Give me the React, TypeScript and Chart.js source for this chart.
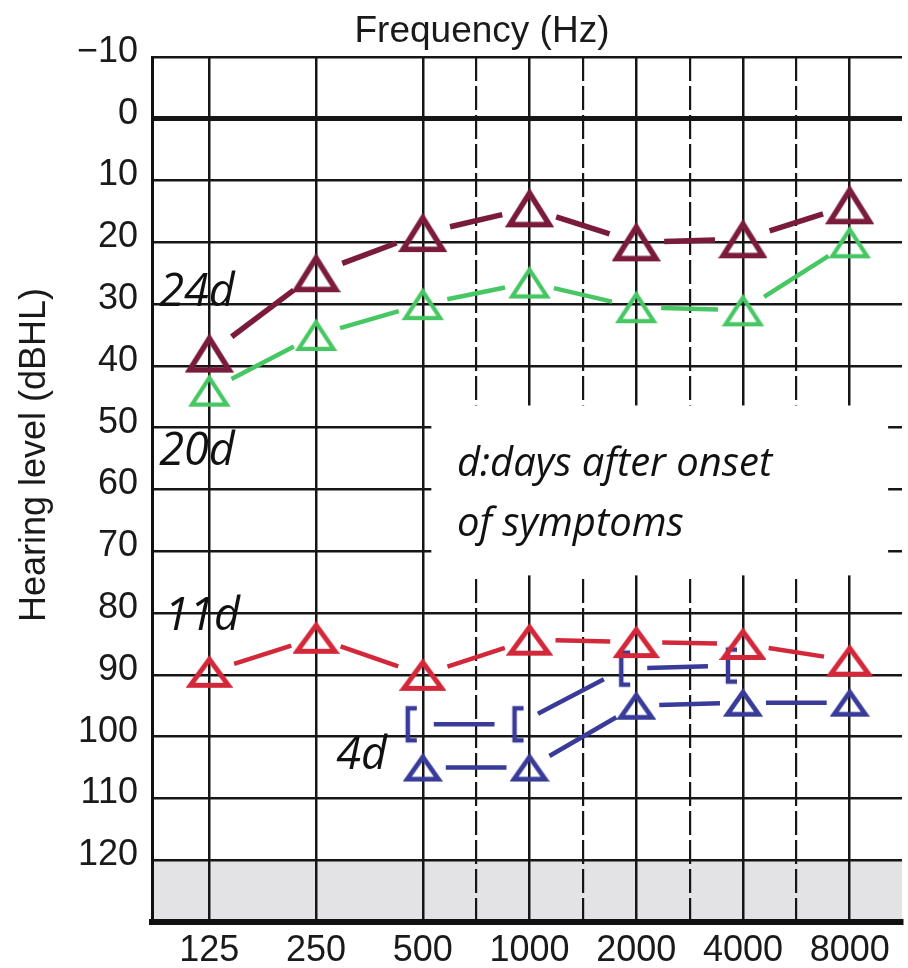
import React, { useEffect, useRef } from 'react';
import { Chart, registerables } from 'chart.js';

Chart.register(...registerables);

// ---------- data ----------
const freqLabels = ['125', '250', '500', '1000', '2000', '4000', '8000'];
const freqIndex = [0, 1, 2, 3, 4, 5, 6];
const halfOctaveIndex = [2.5, 3.5, 4.5, 5.5];
const yTickValues = [-10, 0, 10, 20, 30, 40, 50, 60, 70, 80, 90, 100, 110, 120, 130];
const yTickLabels = ['\u221210', '0', '10', '20', '30', '40', '50', '60', '70', '80', '90', '100', '110', '120', ''];

const day24Air = [38, 25, 18.5, 14.5, 20, 19.5, 14];
const day20Air = [44, 35, 30, 26.5, 30.5, 31, 20];
const day11Air = [89.5, 84, 90, 84.3, 84.7, 85, 87.7];
const day4Air = [null, null, 105, 105, 95, 94.5, 94.5];
const day4Bone = [null, null, 98, 98, 89, 88.5, null];

const seriesNames = ['24d', '20d', '11d', '4d air', '4d bone'];
const legendNote = ['d:days after onset', 'of symptoms'];
const xTitle = 'Frequency (Hz)';
const yTitle = 'Hearing level (dBHL)';

const COLORS = {
  maroon: '#7a1b3b',
  green: '#47c763',
  red: '#d3283a',
  blue: '#393b99',
};

function toPoints(values: (number | null)[]) {
  return freqIndex
    .map((x, i) => ({ x, y: values[i] }))
    .filter((p) => p.y !== null) as { x: number; y: number }[];
}

function makeTriangle(color: string, w: number, h: number, lw: number) {
  const c = document.createElement('canvas');
  const pad = 2;
  c.width = Math.ceil(w + pad * 2);
  c.height = Math.ceil(h + pad * 2);
  const ctx = c.getContext('2d')!;
  ctx.strokeStyle = color;
  ctx.lineWidth = lw;
  ctx.lineJoin = 'miter';
  const x0 = pad + lw / 2;
  const x1 = pad + w - lw / 2;
  const yTop = pad + lw / 2 + 1;
  const yBot = pad + h - lw / 2;
  ctx.beginPath();
  ctx.moveTo((x0 + x1) / 2, yTop);
  ctx.lineTo(x1, yBot);
  ctx.lineTo(x0, yBot);
  ctx.closePath();
  ctx.stroke();
  return c;
}

function makeBracket(color: string) {
  const c = document.createElement('canvas');
  c.width = 48;
  c.height = 42;
  const ctx = c.getContext('2d')!;
  ctx.strokeStyle = color;
  ctx.lineWidth = 4.5;
  ctx.lineCap = 'butt';
  ctx.beginPath();
  ctx.moveTo(18, 5);
  ctx.lineTo(9, 5);
  ctx.lineTo(9, 37);
  ctx.lineTo(18, 37);
  ctx.stroke();
  return c;
}

const overlayPlugin = {
  id: 'audiogramOverlay',
  beforeDraw(chart: any) {
    const { ctx, chartArea, scales } = chart;
    const y120 = scales.y.getPixelForValue(120);
    const y130 = scales.y.getPixelForValue(130);
    ctx.save();
    ctx.fillStyle = '#e3e3e5';
    ctx.fillRect(chartArea.left, y120, chartArea.right - chartArea.left, y130 - y120);
    ctx.restore();
  },
  beforeDatasetsDraw(chart: any) {
    const { ctx, scales } = chart;
    const xs = scales.x;
    const ys = scales.y;
    // white note box
    const bx0 = xs.getPixelForValue(2.08);
    const bx1 = xs.getPixelForValue(6.36);
    const by0 = ys.getPixelForValue(46.4);
    const by1 = ys.getPixelForValue(73.9);
    ctx.save();
    ctx.fillStyle = '#ffffff';
    ctx.fillRect(bx0, by0, bx1 - bx0, by1 - by0);
    ctx.restore();

    // connectors with gaps around symbols
    chart.data.datasets.forEach((ds: any, i: number) => {
      const meta = chart.getDatasetMeta(i);
      const pts = meta.data;
      ctx.save();
      ctx.strokeStyle = ds.connectColor;
      ctx.lineWidth = ds.connectWidth;
      ctx.lineCap = 'butt';
      for (let k = 0; k < pts.length - 1; k++) {
        const a = pts[k];
        const b = pts[k + 1];
        const ax = a.x + ds.connectOffsetX;
        const bx = b.x + ds.connectOffsetX;
        const dx = bx - ax;
        const dy = b.y - a.y;
        const len = Math.hypot(dx, dy);
        const ux = dx / len;
        const uy = dy / len;
        ctx.beginPath();
        ctx.moveTo(ax + ux * ds.connectGap, a.y + uy * ds.connectGap);
        ctx.lineTo(bx - ux * ds.connectGap, b.y - uy * ds.connectGap);
        ctx.stroke();
      }
      ctx.restore();
    });
  },
  afterDatasetsDraw(chart: any) {
    const { ctx, scales } = chart;
    const xs = scales.x;
    const ys = scales.y;
    ctx.save();
    ctx.fillStyle = '#111111';
    ctx.textAlign = 'left';
    ctx.textBaseline = 'alphabetic';
    ctx.font = 'italic 45px "Open Sans"';
    const dayLabels: [string, number, number][] = [
      ['24d', -0.47, 30.3],
      ['20d', -0.47, 56.0],
      ['11d', -0.42, 82.8],
      ['4d', 1.19, 105.2],
    ];
    dayLabels.forEach(([t, x, y]) => {
      ctx.fillText(t, xs.getPixelForValue(x), ys.getPixelForValue(y));
    });
    ctx.font = 'italic 40px "Open Sans"';
    ctx.fillText(legendNote[0], xs.getPixelForValue(2.32), ys.getPixelForValue(57.8));
    ctx.fillText(legendNote[1], xs.getPixelForValue(2.32), ys.getPixelForValue(67.6));

    // axis titles
    ctx.font = '37px "Liberation Sans"';
    ctx.textAlign = 'center';
    ctx.fillStyle = '#1a1a1a';
    ctx.fillText(xTitle, 482, 42);
    ctx.translate(45, 455);
    ctx.rotate(-Math.PI / 2);
    ctx.font = '36px "Liberation Sans"';
    ctx.fillText(yTitle, 0, 0);
    ctx.restore();
  },
};

export default function App() {
  const canvasRef = useRef<HTMLCanvasElement | null>(null);

  useEffect(() => {
    if (!canvasRef.current) return;
    const triMaroon = makeTriangle(COLORS.maroon, 45, 38, 5.5);
    const triGreen = makeTriangle(COLORS.green, 39, 32, 4.2);
    const triRed = makeTriangle(COLORS.red, 43, 32, 5);
    const triBlue = makeTriangle(COLORS.blue, 36, 28, 4.8);
    const bracketBlue = makeBracket(COLORS.blue);

    const mk = (label: string, values: (number | null)[], color: string, style: any, width: number, gap: number, offsetX = 0) => ({
      label,
      data: toPoints(values),
      showLine: false,
      pointStyle: style,
      pointRadius: 5,
      pointHoverRadius: 5,
      borderColor: color,
      backgroundColor: color,
      connectColor: color,
      connectWidth: width,
      connectGap: gap,
      connectOffsetX: offsetX,
    });

    const chart = new Chart(canvasRef.current, {
      type: 'line',
      data: {
        datasets: [
          mk(seriesNames[0], day24Air, COLORS.maroon, triMaroon, 5.5, 28),
          mk(seriesNames[1], day20Air, COLORS.green, triGreen, 4.5, 25),
          mk(seriesNames[2], day11Air, COLORS.red, triRed, 4.5, 26),
          mk(seriesNames[3], day4Air, COLORS.blue, triBlue, 4.5, 23),
          mk(seriesNames[4], day4Bone, COLORS.blue, bracketBlue, 4.5, 23, -12),
        ] as any,
      },
      options: {
        animation: false,
        responsive: false,
        events: [],
        layout: { padding: { top: 57, right: 2, left: 0, bottom: 0 } },
        plugins: { legend: { display: false }, tooltip: { enabled: false }, title: { display: false } },
        scales: {
          x: {
            type: 'linear',
            position: 'bottom',
            min: -0.537,
            max: 6.49,
            afterBuildTicks: (s: any) => {
              s.ticks = freqIndex.map((v) => ({ value: v }));
            },
            afterFit: (s: any) => {
              s.height = 46;
            },
            ticks: {
              autoSkip: false,
              maxRotation: 0,
              padding: 7,
              color: '#1a1a1a',
              font: { family: '"Liberation Sans"', size: 36 },
              callback: (v: any) => freqLabels[freqIndex.indexOf(Number(v))] ?? '',
            },
            grid: { color: '#161616', lineWidth: 2.5, drawTicks: false },
            border: { display: true, color: '#111', width: 6 },
          },
          x2: {
            type: 'linear',
            position: 'bottom',
            min: -0.537,
            max: 6.49,
            afterBuildTicks: (s: any) => {
              s.ticks = halfOctaveIndex.map((v) => ({ value: v }));
            },
            afterFit: (s: any) => {
              s.height = 0;
            },
            ticks: { display: false },
            grid: { color: '#161616', lineWidth: 2.2, drawTicks: false },
            border: { display: false, dash: [24, 5] },
          },
          y: {
            type: 'linear',
            reverse: true,
            min: -10,
            max: 130,
            afterBuildTicks: (s: any) => {
              s.ticks = yTickValues.map((v) => ({ value: v }));
            },
            afterFit: (s: any) => {
              s.width = 152;
            },
            ticks: {
              autoSkip: false,
              padding: 14,
              labelOffset: -5,
              color: '#1a1a1a',
              font: { family: '"Liberation Sans"', size: 36 },
              callback: (v: any) => yTickLabels[yTickValues.indexOf(Number(v))] ?? '',
            },
            grid: {
              color: '#161616',
              lineWidth: (ctx: any) => (ctx.tick && ctx.tick.value === 0 ? 5 : 2.5),
              drawTicks: false,
            },
            border: { display: true, color: '#111', width: 3 },
          },
        },
      },
      plugins: [overlayPlugin],
    } as any);

    return () => chart.destroy();
  }, []);

  return (
    <div style={{ position: 'absolute', left: 0, top: 0, width: 908, height: 968, background: '#fff' }}>
      <canvas ref={canvasRef} width={908} height={968} style={{ width: 908, height: 968, display: 'block' }} />
    </div>
  );
}
